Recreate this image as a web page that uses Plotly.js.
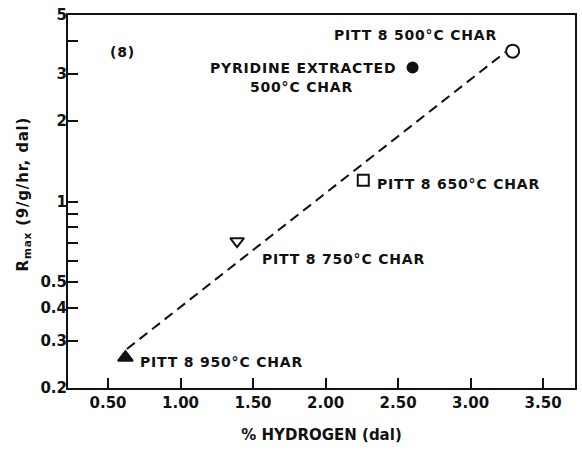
<!DOCTYPE html>
<html>
<head>
<meta charset="utf-8">
<script src="https://cdn.plot.ly/plotly-3.0.1.min.js"></script>
<style>
  html, body { margin: 0; padding: 0; background: #fff; }
  #chart { width: 582px; height: 465px; }
  .annotation-text { letter-spacing: 0.8px; }
</style>
</head>
<body>
<div id="chart"></div>
<script>
// Maximum reactivity of Pittsburgh No. 8 chars vs. hydrogen content
const charNames   = ['PITT 8 500°C CHAR', 'PYRIDINE EXTRACTED', 'PITT 8 650°C CHAR', 'PITT 8 750°C CHAR', 'PITT 8 950°C CHAR'];
const hydrogenPct = [3.29, 2.60, 2.26, 1.39, 0.62];
const rmax        = [3.66, 3.18, 1.20, 0.71, 0.26];
const markerSymbols = ['circle-open', 'circle', 'square-open', 'triangle-down-open', 'triangle-up'];
const markerSizes   = [13, 10, 11, 12, 13];

// dashed correlation line endpoints
const fitX = [0.63, 3.24];
const fitY = [0.28, 3.63];

// axis ticks
const xTickVals = [0.5, 1.0, 1.5, 2.0, 2.5, 3.0, 3.5];
const xTickText = ['0.50', '1.00', '1.50', '2.00', '2.50', '3.00', '3.50'];
const yTickVals = [0.2, 0.3, 0.4, 0.5, 1, 2, 3, 5];
const yTickText = ['0.2', '0.3', '0.4', '0.5', '1', '2', '3', '5'];
const yMinorVals = [0.6, 0.7, 0.8, 0.9, 4];

const FONT = 'DejaVu Sans, Verdana, sans-serif';

const traces = [
  {
    x: fitX, y: fitY, mode: 'lines', type: 'scatter',
    line: { color: '#111', width: 2, dash: '10px,6px' },
    hoverinfo: 'skip', showlegend: false
  }
];
hydrogenPct.forEach((h, i) => {
  traces.push({
    x: [h], y: [rmax[i]], mode: 'markers', type: 'scatter', name: charNames[i],
    marker: {
      symbol: markerSymbols[i], size: markerSizes[i], color: '#111',
      line: { color: '#111', width: 2 }
    },
    showlegend: false
  });
});

function label(text, x, y, anchor) {
  return {
    text: text, xref: 'x', yref: 'y', x: x, y: Math.log10(y),
    xanchor: anchor || 'left', yanchor: 'middle', showarrow: false,
    font: { family: FONT, size: 14, color: '#111', weight: 'bold' }
  };
}

const annotations = [
  label('(8)', 0.60, 3.63, 'center'),
  label('PITT 8 500°C CHAR', 2.045, 4.2),
  label('PYRIDINE EXTRACTED', 1.19, 3.16),
  label('500°C CHAR', 1.466, 2.68),
  label('PITT 8 650°C CHAR', 2.34, 1.167),
  label('PITT 8 750°C CHAR', 1.548, 0.61),
  label('PITT 8 950°C CHAR', 0.707, 0.25),
  {
    text: 'R<sub>max</sub> (9/g/hr, dal)', xref: 'paper', yref: 'paper',
    x: -0.088, y: 0.52, xanchor: 'center', yanchor: 'middle', textangle: -90,
    showarrow: false, font: { family: FONT, size: 15, color: '#111', weight: 'bold' }
  }
];

const layout = {
  width: 582, height: 465,
  margin: { l: 68, r: 7, t: 15, b: 77 },
  paper_bgcolor: '#fff', plot_bgcolor: '#fff',
  font: { family: FONT, size: 14, color: '#111' },
  xaxis: {
    range: [0.224, 3.72], showgrid: false, zeroline: false,
    tickvals: xTickVals, ticktext: xTickText,
    ticks: 'inside', ticklen: 10, tickwidth: 2, tickcolor: '#111',
    showline: true, linewidth: 2, linecolor: '#111', mirror: true,
    tickfont: { family: FONT, size: 15, weight: 'bold' },
    title: { text: '% HYDROGEN (dal)', standoff: 18, font: { family: FONT, size: 15, weight: 'bold' } }
  },
  yaxis: {
    type: 'log', range: [Math.log10(0.2), Math.log10(5)],
    showgrid: false, zeroline: false,
    tickvals: yTickVals, ticktext: yTickText,
    ticks: 'inside', ticklen: 10, tickwidth: 2, tickcolor: '#111',
    minor: { tickvals: yMinorVals, ticks: 'inside', ticklen: 10, tickwidth: 2, tickcolor: '#111', showgrid: false },
    showline: true, linewidth: 2, linecolor: '#111', mirror: true,
    tickfont: { family: FONT, size: 15, weight: 'bold' }, ticklabelstandoff: -4
  },
  annotations: annotations,
  showlegend: false
};

Plotly.newPlot('chart', traces, layout, { staticPlot: true, displayModeBar: false });
</script>
</body>
</html>
